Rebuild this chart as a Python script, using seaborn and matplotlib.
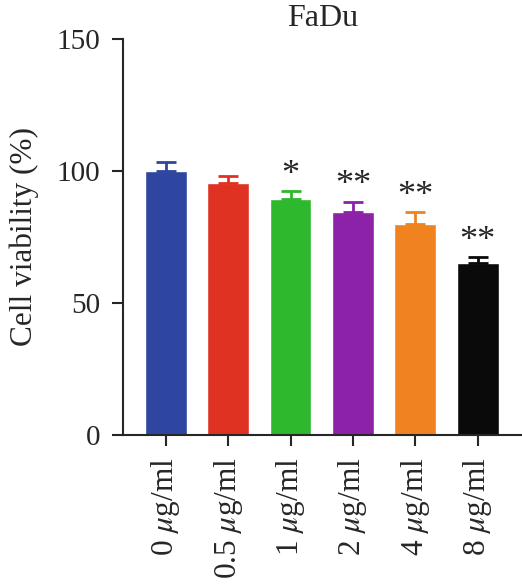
import matplotlib
matplotlib.use("Agg")
import matplotlib.pyplot as plt
import seaborn as sns
import pandas as pd

#Data
doses = ["0 $\\mu$g/ml", "0.5 $\\mu$g/ml", "1 $\\mu$g/ml", "2 $\\mu$g/ml", "4 $\\mu$g/ml", "8 $\\mu$g/ml"]
viability = [100.0, 95.3, 89.3, 84.3, 79.9, 65.0]
sd = [3.4, 2.9, 3.0, 4.0, 4.4, 2.2]
stars = ["", "", "*", "**", "**", "**"]
colors = ["#2E46A0", "#E03222", "#2EB82E", "#8B22A8", "#F08220", "#0A0A0A"]

df = pd.DataFrame({"dose": doses, "viability": viability, "sd": sd})

sns.set_style("ticks")
plt.rcParams["font.family"] = ["Liberation Serif", "DejaVu Serif"]
plt.rcParams["mathtext.fontset"] = "stix"

fig = plt.figure(figsize=(5.22, 5.87), dpi=100)
ax = fig.add_axes([0.235, 0.259, 0.765, 0.675])

sns.barplot(data=df, x="dose", y="viability", hue="dose", palette=colors,
            width=0.67, legend=False, ax=ax, saturation=1)

#Upper error bars only
for i, (v, e, c) in enumerate(zip(viability, sd, colors)):
    ax.errorbar(i, v, yerr=[[0], [e]], fmt="none", ecolor=c, elinewidth=2,
                capsize=7.5, capthick=2)
    if stars[i]:
        ax.text(i, v + e + 6.0, stars[i], ha="center", va="center", fontsize=26)

ax.set_ylim(0, 150)
ax.set_yticks([0, 50, 100, 150])
ax.set_xlim(-0.69, 5.71)
ax.set_xlabel("")
ax.set_ylabel("Cell viability (%)", fontsize=22.5)
ax.yaxis.set_label_coords(-0.21, 0.5)
ax.set_title("FaDu", fontsize=23, pad=9)
ax.tick_params(axis="y", labelsize=21, length=8, width=1.5, pad=8)
ax.tick_params(axis="x", labelsize=22.5, length=8, width=1.5, rotation=90, pad=8)
sns.despine(ax=ax)
for s in ["left", "bottom"]:
    ax.spines[s].set_linewidth(1.5)

fig.savefig("out.png", dpi=100)
